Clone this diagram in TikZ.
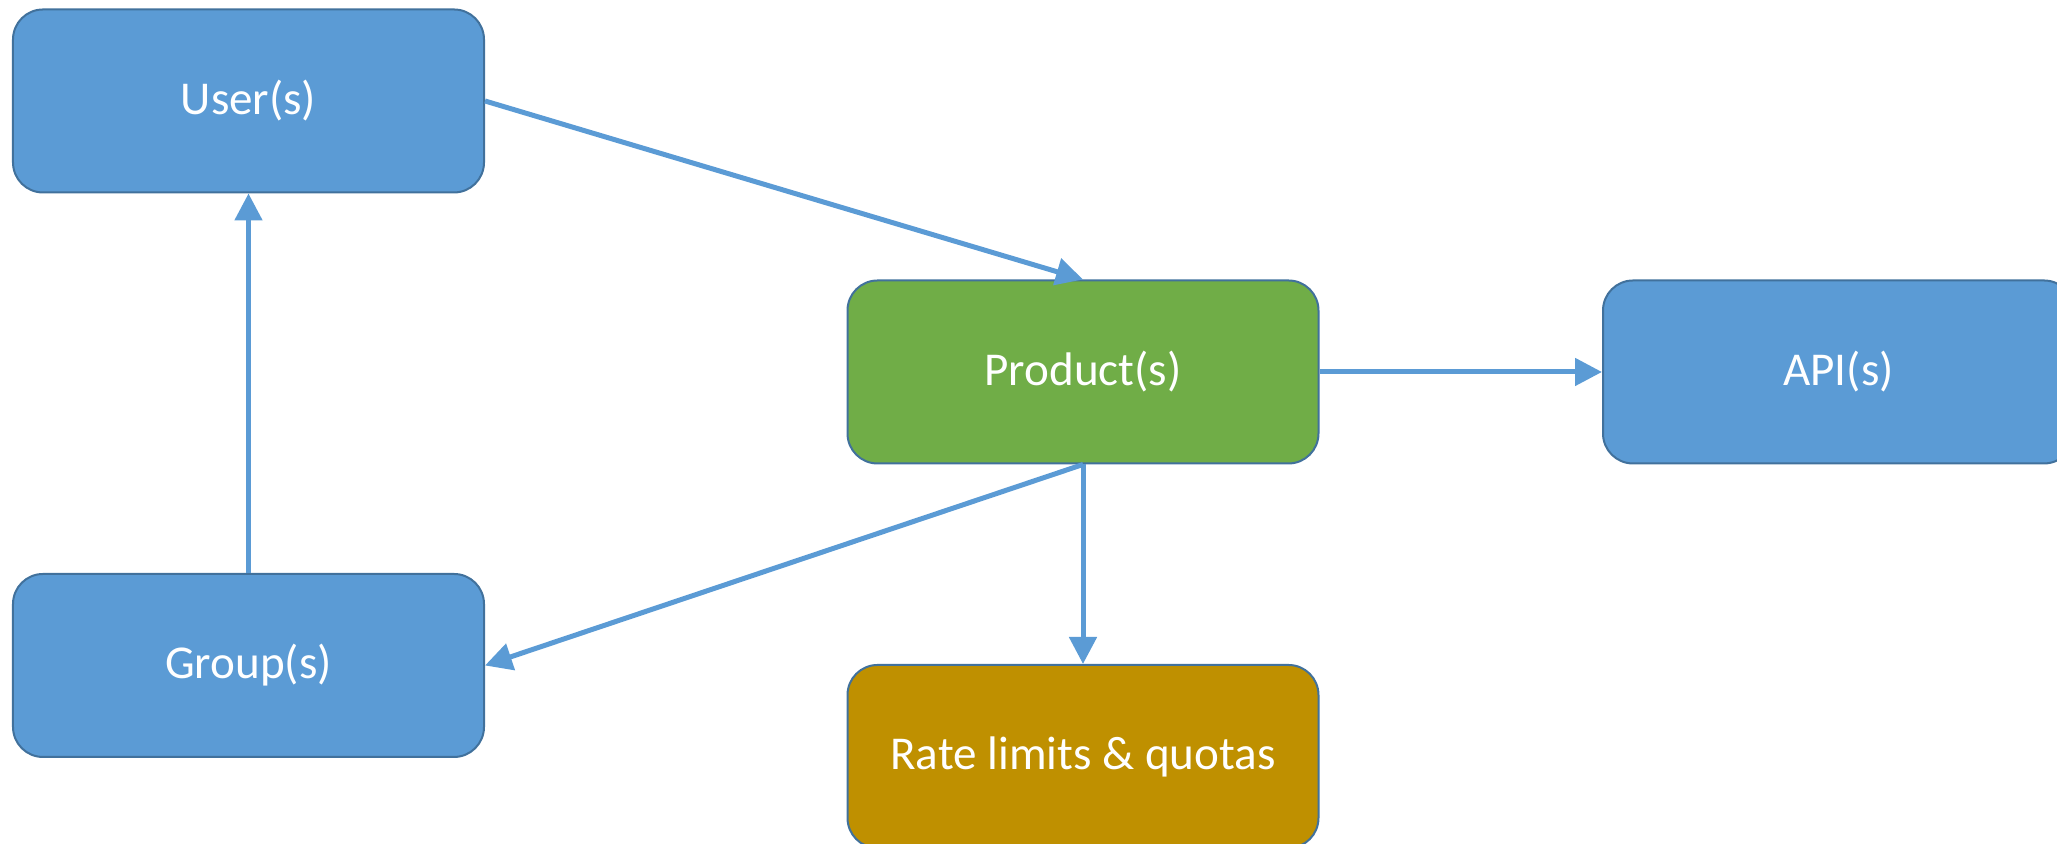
\documentclass[tikz,border=0pt]{standalone}
\usepackage{fontspec}
\setmainfont{Carlito}
\usepackage{xcolor}
\definecolor{myblue}{RGB}{91,155,213}
\definecolor{mygreen}{RGB}{112,173,71}
\definecolor{mygold}{RGB}{191,144,0}
\definecolor{myedge}{RGB}{65,113,156}
\usepackage{tikz}
\usetikzlibrary{positioning}
\usetikzlibrary{arrows.meta}

\begin{document}
\begin{tikzpicture}
	\useasboundingbox (0,0) rectangle (20.57,8.44);
	\begin{scope}[every node/.style={fill=myblue,draw=myedge,line width=0.02cm,rounded corners=0.3cm,
	              minimum width=4.71cm,minimum height=1.83cm,inner sep=0pt,text=white,
	              font=\fontsize{13.4}{16}\selectfont}]
	    \node (U) at (2.485,7.43) {User(s)};
	    \node (G) at (2.485,1.785) {Group(s)};
	    \node (P) [fill=mygreen] at (10.83,4.72) {Product(s)};
	    \node (A) at (18.385,4.72) {API(s)};
	    \node (R) [fill=mygold] at (10.83,0.875) {Rate limits \& quotas};
	\end{scope}

	\begin{scope}[>={Triangle[length=0.27cm,width=0.27cm]},
	              every edge/.style={draw=myblue,line width=0.05cm}]
    	\path [->] (U.east) edge (P.north);
    	\path [->] (P) edge (A);
    	\path [->] (P.south) edge (R.north);
    	\path [->] (P.south) edge (G.east);
    	\path [->] (G.north) edge (U.south);
	\end{scope}
\end{tikzpicture}
\end{document}
